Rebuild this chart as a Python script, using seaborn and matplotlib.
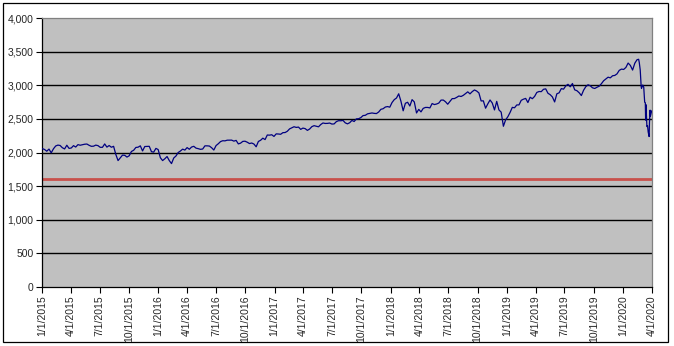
import matplotlib
matplotlib.use("Agg")
import matplotlib.pyplot as plt
import matplotlib.dates as mdates
from matplotlib.patches import Rectangle
from matplotlib.ticker import FuncFormatter
import seaborn as sns
import pandas as pd

# ---- data (weekly closes) ----
values_2015 = [2058, 2045, 2019, 2051, 1995, 2055, 2097, 2110, 2104, 2071, 2053, 2108, 2061,
               2067, 2102, 2081, 2117, 2108, 2116, 2123, 2126, 2107, 2092, 2094, 2110, 2102,
               2077, 2077, 2127, 2080, 2104, 2078, 2092, 1971, 1880, 1921, 1961, 1958, 1932,
               1951, 2015, 2033, 2075, 2079, 2099, 2023, 2089, 2090, 2092, 2012, 2006, 2061]
values_2016 = [2044, 1922, 1880, 1907, 1940, 1880, 1835, 1918, 1948, 2000, 2022, 2050, 2036,
               2073, 2048, 2081, 2092, 2065, 2057, 2047, 2052, 2099, 2099, 2096, 2071, 2037,
               2103, 2130, 2162, 2175, 2173, 2183, 2184, 2184, 2169, 2180, 2128, 2139, 2165,
               2168, 2153, 2133, 2141, 2126, 2085, 2164, 2182, 2213, 2192, 2260, 2258, 2264, 2239]
values_2017 = [2277, 2275, 2271, 2295, 2297, 2316, 2351, 2367, 2383, 2373, 2378, 2344, 2363,
               2355, 2329, 2349, 2384, 2399, 2391, 2382, 2416, 2439, 2432, 2433, 2438, 2423,
               2425, 2459, 2473, 2472, 2477, 2441, 2426, 2443, 2477, 2461, 2500, 2502, 2519,
               2549, 2553, 2575, 2581, 2588, 2582, 2579, 2602, 2642, 2651, 2676, 2683, 2674]
values_2018 = [2743, 2786, 2810, 2873, 2762, 2620, 2732, 2747, 2691, 2786, 2752, 2588, 2641,
               2604, 2656, 2670, 2670, 2663, 2728, 2713, 2721, 2735, 2779, 2780, 2755, 2718,
               2760, 2801, 2802, 2819, 2840, 2833, 2850, 2875, 2902, 2872, 2905, 2930, 2914,
               2886, 2767, 2768, 2659, 2723, 2781, 2736, 2633, 2760, 2633, 2600, 2390, 2486]
values_2019 = [2532, 2596, 2671, 2665, 2707, 2708, 2776, 2793, 2804, 2743, 2822, 2800, 2834,
               2893, 2907, 2905, 2940, 2946, 2881, 2860, 2826, 2752, 2873, 2887, 2950, 2942,
               2990, 3014, 2977, 3026, 2932, 2919, 2889, 2847, 2926, 2979, 3007, 2992, 2962,
               2952, 2970, 2986, 3023, 3067, 3093, 3120, 3110, 3141, 3146, 3169, 3221, 3240]
dates_2020 = ["2020-01-03", "2020-01-10", "2020-01-17", "2020-01-24", "2020-01-31",
              "2020-02-07", "2020-02-14", "2020-02-19", "2020-02-21", "2020-02-24",
              "2020-02-27", "2020-02-28", "2020-03-03", "2020-03-06", "2020-03-09",
              "2020-03-11", "2020-03-12", "2020-03-13", "2020-03-16", "2020-03-18",
              "2020-03-20", "2020-03-23", "2020-03-24", "2020-03-26", "2020-03-27",
              "2020-03-31"]
values_2020 = [3235, 3265, 3330, 3295, 3226, 3328, 3380, 3386, 3338, 3226, 2979, 2954, 3003,
               2972, 2747, 2741, 2481, 2711, 2386, 2398, 2305, 2237, 2447, 2630, 2541, 2620]
reference_level = 1610
y_ticks = [0, 500, 1000, 1500, 2000, 2500, 3000, 3500, 4000]
x_start, x_end = "2015-01-01", "2020-04-01"

# ---- assemble ----
frames = []
for year, vals in zip([2015, 2016, 2017, 2018, 2019],
                      [values_2015, values_2016, values_2017, values_2018, values_2019]):
    d = pd.date_range(f"{year}-01-01", f"{year}-12-31", freq="W-FRI")
    frames.append(pd.DataFrame({"date": d[:len(vals)], "value": vals[:len(d)]}))
frames.append(pd.DataFrame({"date": pd.to_datetime(dates_2020), "value": values_2020}))
df = pd.concat(frames, ignore_index=True)

sns.set_style("white")
plt.rcParams["font.family"] = ["Liberation Sans", "DejaVu Sans"]

fig = plt.figure(figsize=(6.74, 3.46), dpi=100)
ax = fig.add_axes([42 / 674, 59 / 346, 610 / 674, 269 / 346])
ax.set_facecolor("#C0C0C0")

for yv in y_ticks[1:-1]:
    ax.axhline(yv, color="black", lw=1.0, zorder=1)

sns.lineplot(data=df, x="date", y="value", ax=ax, color="#000080", lw=0.9, zorder=3)
ax.axhline(reference_level, color="#C8504B", lw=2.0, zorder=2)

ax.set_ylim(0, 4000)
ax.set_xlim(pd.Timestamp(x_start), pd.Timestamp(x_end))
ax.set_yticks(y_ticks)
ax.yaxis.set_major_formatter(FuncFormatter(lambda v, p: f"{int(v):,}"))

qticks = pd.date_range(x_start, x_end, freq="QS")
ax.set_xticks(qticks)
ax.set_xticklabels([f"{t.month}/{t.day}/{t.year}" for t in qticks], rotation=90)

ax.set_xlabel("")
ax.set_ylabel("")
ax.tick_params(axis="both", direction="out", length=4, width=0.8, color="black",
               labelsize=7.5, pad=2, left=True, bottom=True)
for s in ["left", "bottom"]:
    ax.spines[s].set_color("black")
    ax.spines[s].set_linewidth(0.9)
for s in ["top", "right"]:
    ax.spines[s].set_color("#808080")
    ax.spines[s].set_linewidth(0.9)

fig.patches.append(Rectangle((3 / 674, 4 / 346), 665 / 674, 339 / 346,
                             transform=fig.transFigure, fill=False,
                             edgecolor="black", lw=0.9))

fig.savefig("out.png", dpi=100)
